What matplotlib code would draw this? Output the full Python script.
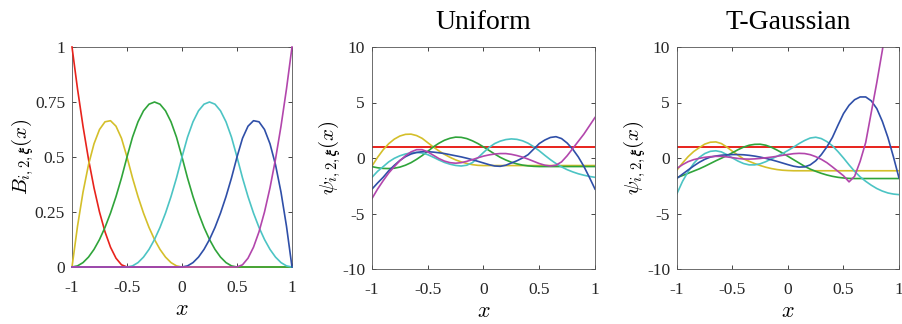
import numpy as np
import matplotlib.pyplot as plt

plt.rcParams['mathtext.fontset'] = 'cm'
plt.rcParams['font.family'] = ['Liberation Serif', 'DejaVu Serif']

# grid of x positions where the curves were read (step 0.05)
x = np.linspace(-1, 1, 41)

# quadratic B-splines (left panel)
b_red = [1.0, 0.81, 0.64, 0.49, 0.36, 0.25, 0.16, 0.09, 0.04, 0.01, 0.0,
         0, 0, 0, 0, 0, 0, 0, 0, 0, 0, 0, 0, 0, 0, 0, 0, 0, 0, 0, 0,
         0, 0, 0, 0, 0, 0, 0, 0, 0, 0]
b_yellow = [0.0, 0.185, 0.34, 0.465, 0.56, 0.625, 0.66, 0.665, 0.64, 0.585, 0.5,
            0.405, 0.32, 0.245, 0.18, 0.125, 0.08, 0.045, 0.02, 0.005, 0.0,
            0, 0, 0, 0, 0, 0, 0, 0, 0, 0, 0, 0, 0, 0, 0, 0, 0, 0, 0, 0]
b_green = [0.0, 0.005, 0.02, 0.045, 0.08, 0.125, 0.18, 0.245, 0.32, 0.405, 0.5,
           0.59, 0.66, 0.71, 0.74, 0.75, 0.74, 0.71, 0.66, 0.59, 0.5,
           0.405, 0.32, 0.245, 0.18, 0.125, 0.08, 0.045, 0.02, 0.005, 0.0,
           0, 0, 0, 0, 0, 0, 0, 0, 0, 0]
b_cyan = [0, 0, 0, 0, 0, 0, 0, 0, 0, 0,
          0.0, 0.005, 0.02, 0.045, 0.08, 0.125, 0.18, 0.245, 0.32, 0.405, 0.5,
          0.59, 0.66, 0.71, 0.74, 0.75, 0.74, 0.71, 0.66, 0.59, 0.5,
          0.405, 0.32, 0.245, 0.18, 0.125, 0.08, 0.045, 0.02, 0.005, 0.0]
b_blue = [0, 0, 0, 0, 0, 0, 0, 0, 0, 0, 0, 0, 0, 0, 0, 0, 0, 0, 0, 0,
          0.0, 0.005, 0.02, 0.045, 0.08, 0.125, 0.18, 0.245, 0.32, 0.405, 0.5,
          0.585, 0.64, 0.665, 0.66, 0.625, 0.56, 0.465, 0.34, 0.185, 0.0]
b_magenta = [0, 0, 0, 0, 0, 0, 0, 0, 0, 0, 0, 0, 0, 0, 0, 0, 0, 0, 0, 0,
             0, 0, 0, 0, 0, 0, 0, 0, 0, 0,
             0.0, 0.01, 0.04, 0.09, 0.16, 0.25, 0.36, 0.49, 0.64, 0.81, 1.0]

# orthonormal basis, uniform measure (middle panel)
x_ends = [-1, 1]
u_red = [1.0, 1.0]
u_yellow = [-0.72, 0.06, 0.74, 1.29, 1.70, 1.98, 2.13, 2.15, 2.02, 1.77, 1.38,
            0.99, 0.64, 0.33, 0.06, -0.17, -0.35, -0.49, -0.60, -0.66, -0.68,
            -0.68, -0.68, -0.68, -0.68, -0.68, -0.68, -0.68, -0.68, -0.68, -0.68,
            -0.68, -0.68, -0.68, -0.68, -0.68, -0.68, -0.68, -0.68, -0.68, -0.68]
u_green = [-0.78, -0.88, -0.94, -0.95, -0.92, -0.82, -0.65, -0.42, -0.12, 0.22, 0.60,
           1.00, 1.33, 1.60, 1.78, 1.88, 1.86, 1.75, 1.55, 1.30, 1.00,
           0.68, 0.36, 0.06, -0.18, -0.38, -0.53, -0.64, -0.71, -0.75, -0.77,
           -0.77, -0.77, -0.77, -0.77, -0.77, -0.77, -0.77, -0.77, -0.77, -0.77]
u_cyan = [-1.74, -1.20, -0.78, -0.35, -0.03, 0.20, 0.36, 0.47, 0.50, 0.45, 0.30,
          0.07, -0.18, -0.40, -0.56, -0.67, -0.72, -0.65, -0.42, 0.02, 0.50,
          0.95, 1.30, 1.52, 1.66, 1.72, 1.68, 1.55, 1.33, 1.02, 0.65,
          0.24, -0.15, -0.50, -0.80, -1.05, -1.25, -1.42, -1.55, -1.66, -1.74]
u_blue = [-2.80, -2.25, -1.74, -1.15, -0.66, -0.22, 0.12, 0.36, 0.50, 0.57, 0.57,
          0.53, 0.47, 0.40, 0.30, 0.20, 0.10, -0.02, -0.15, -0.30, -0.45,
          -0.60, -0.72, -0.75, -0.65, -0.45, -0.25, 0.00, 0.30, 0.80, 1.30,
          1.62, 1.85, 1.92, 1.75, 1.35, 0.80, 0.10, -0.75, -1.75, -2.80]
u_magenta = [-3.65, -2.80, -2.05, -1.35, -0.78, -0.25, 0.20, 0.55, 0.75, 0.75, 0.55,
             0.25, -0.05, -0.28, -0.42, -0.47, -0.42, -0.30, -0.15, 0.02, 0.17,
             0.28, 0.36, 0.40, 0.40, 0.33, 0.22, 0.08, -0.10, -0.30, -0.50,
             -0.65, -0.72, -0.65, -0.35, 0.20, 0.85, 1.50, 2.15, 2.90, 3.65]

# orthonormal basis, truncated Gaussian measure (right panel)
t_red = [1.0, 1.0]
t_yellow = [-1.08, -0.45, 0.12, 0.58, 0.93, 1.25, 1.42, 1.45, 1.30, 0.98, 0.60,
            0.25, -0.08, -0.30, -0.50, -0.68, -0.83, -0.95, -1.04, -1.10, -1.13,
            -1.15, -1.15, -1.15, -1.15, -1.15, -1.15, -1.15, -1.15, -1.15, -1.15,
            -1.15, -1.15, -1.15, -1.15, -1.15, -1.15, -1.15, -1.15, -1.15, -1.15]
t_green = [-1.77, -1.58, -1.38, -1.18, -0.98, -0.75, -0.50, -0.25, -0.02, 0.22, 0.48,
           0.75, 0.98, 1.15, 1.23, 1.24, 1.15, 0.97, 0.72, 0.45, 0.15,
           -0.15, -0.45, -0.75, -1.00, -1.20, -1.38, -1.53, -1.65, -1.74, -1.80,
           -1.84, -1.85, -1.85, -1.85, -1.85, -1.85, -1.85, -1.85, -1.85, -1.85]
t_cyan = [-3.20, -2.10, -1.23, -0.50, 0.05, 0.40, 0.60, 0.65, 0.55, 0.30, 0.00,
          -0.28, -0.50, -0.62, -0.62, -0.52, -0.33, -0.08, 0.15, 0.40, 0.68,
          0.98, 1.30, 1.58, 1.80, 1.87, 1.75, 1.48, 1.10, 0.58, 0.00,
          -0.62, -1.20, -1.70, -2.10, -2.45, -2.75, -2.98, -3.15, -3.25, -3.30]
t_blue = [-1.83, -1.45, -1.08, -0.72, -0.39, -0.12, 0.08, 0.18, 0.25, 0.29, 0.31,
          0.31, 0.29, 0.24, 0.17, 0.08, -0.03, -0.16, -0.30, -0.45, -0.60,
          -0.74, -0.82, -0.80, -0.62, -0.25, 0.30, 1.00, 1.85, 2.95, 4.00,
          4.75, 5.25, 5.50, 5.50, 5.15, 4.45, 3.30, 1.85, 0.10, -1.80]
t_magenta = [-0.93, -0.60, -0.33, -0.15, -0.03, 0.06, 0.12, 0.15, 0.15, 0.10, 0.03,
             -0.04, -0.09, -0.10, -0.08, -0.04, 0.02, 0.08, 0.15, 0.24, 0.32,
             0.39, 0.42, 0.40, 0.30, 0.12, -0.12, -0.42, -0.80, -1.20, -1.60,
             -2.15, -1.65, -0.30, 1.40, 4.10, 6.80, 9.70, 13.0, 16.5, 20.0]

colors = ['#e8231c', '#d4bf2a', '#2fa43a', '#4cc4c4', '#2f4fa8', '#b246ac']

x_ticks = [-1, -0.5, 0, 0.5, 1]
x_ticklabels = ['-1', '-0.5', '0', '0.5', '1']
b_ticks = [0, 0.25, 0.5, 0.75, 1]
b_ticklabels = ['0', '0.25', '0.5', '0.75', '1']
psi_ticks = [-10, -5, 0, 5, 10]
psi_ticklabels = ['-10', '-5', '0', '5', '10']

fig = plt.figure(figsize=(9.03, 3.24), dpi=100)
ax1 = fig.add_axes([72 / 903, 57 / 324, 220 / 903, 220 / 324])
ax2 = fig.add_axes([372 / 903, 55 / 324, 223 / 903, 222 / 324])
ax3 = fig.add_axes([677 / 903, 55 / 324, 222 / 903, 222 / 324])


def style(ax, yticks, yticklabels, ylim, ylabel):
    ax.set_xlim(-1, 1)
    ax.set_ylim(*ylim)
    ax.set_xticks(x_ticks)
    ax.set_xticklabels(x_ticklabels)
    ax.set_yticks(yticks)
    ax.set_yticklabels(yticklabels)
    ax.tick_params(direction='in', length=3, width=0.6, top=True, right=True,
                   labelsize=12.5, colors='#262626')
    ax.tick_params(axis='x', pad=9)
    ax.tick_params(axis='y', pad=5)
    for s in ax.spines.values():
        s.set_color('#555555')
        s.set_linewidth(0.6)
    ax.set_xlabel(r'$x$', fontsize=16, labelpad=4)
    ax.set_ylabel(ylabel, fontsize=15, labelpad=-1)


for yy, c in zip([b_red, b_yellow, b_green, b_cyan, b_blue, b_magenta], colors):
    ax1.plot(x, yy, color=c, lw=1.2, zorder=3, clip_on=False)
style(ax1, b_ticks, b_ticklabels, (0, 1), r'$B_{i,2,\boldsymbol{\xi}}(x)$')

ax2.plot(x_ends, u_red, color=colors[0], lw=1.4)
for yy, c in zip([u_yellow, u_green, u_cyan, u_blue, u_magenta], colors[1:]):
    ax2.plot(x, yy, color=c, lw=1.2)
style(ax2, psi_ticks, psi_ticklabels, (-10, 10), r'$\psi_{i,2,\boldsymbol{\xi}}(x)$')
ax2.set_title('Uniform', fontsize=20, pad=13)

ax3.plot(x_ends, t_red, color=colors[0], lw=1.4)
for yy, c in zip([t_yellow, t_green, t_cyan, t_blue, t_magenta], colors[1:]):
    ax3.plot(x, yy, color=c, lw=1.2)
style(ax3, psi_ticks, psi_ticklabels, (-10, 10), r'$\psi_{i,2,\boldsymbol{\xi}}(x)$')
ax3.set_title('T-Gaussian', fontsize=20, pad=13)

fig.savefig('out.png', dpi=100)
